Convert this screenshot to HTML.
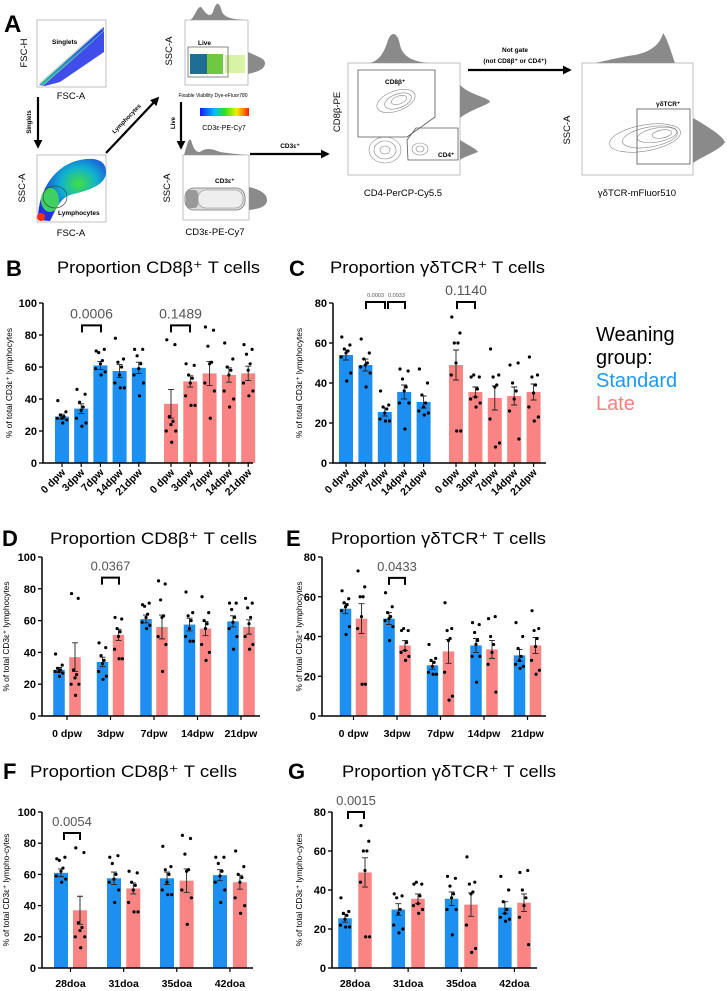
<!DOCTYPE html>
<html><head><meta charset="utf-8"><style>
html,body{margin:0;padding:0;background:#fff;}
svg{display:block;font-family:"Liberation Sans",sans-serif;}
</style></head><body>
<svg id="fig" xmlns="http://www.w3.org/2000/svg" width="727" height="991" viewBox="0 0 727 991">
<defs>
<marker id="arr" viewBox="0 0 10 10" refX="8" refY="5" markerWidth="4" markerHeight="4" orient="auto"><path d="M0,0L10,5L0,10z" fill="#000"/></marker>
<linearGradient id="cbar" x1="0" x2="1"><stop offset="0" stop-color="#1a1aff"/><stop offset="0.3" stop-color="#00c0ff"/><stop offset="0.5" stop-color="#30e020"/><stop offset="0.75" stop-color="#f0f000"/><stop offset="1" stop-color="#ff2000"/></linearGradient>
<radialGradient id="blob2" cx="0.6" cy="0.4" r="0.6"><stop offset="0" stop-color="#40e040"/><stop offset="0.45" stop-color="#10b0d0"/><stop offset="1" stop-color="#2030e0"/></radialGradient>
<linearGradient id="diag" x1="0" y1="1" x2="1" y2="0"><stop offset="0" stop-color="#20c0a0"/><stop offset="1" stop-color="#2040f0"/></linearGradient>
</defs>
<g>
<text x="4" y="32" font-size="24" font-weight="bold">A</text>
<rect x="37" y="20" width="69" height="67" fill="#fff" stroke="#999" stroke-width="0.6"/>
<polygon points="39,85 104,30 104,52 60,82 45,86" fill="#2b3ae8" opacity="0.9"/>
<polygon points="40,84 104,27 104,33 44,85" fill="url(#diag)"/>
<polygon points="40,83 102,28 104,31 42,86" fill="none" stroke="#bbb" stroke-width="0.6"/>
<text x="52" y="44" font-size="6.5" font-weight="bold">Singlets</text>
<text x="27" y="53" font-size="9.5" transform="rotate(-90 27 53)" text-anchor="middle">FSC-H</text>
<text x="71" y="99" font-size="9.5" text-anchor="middle">FSC-A</text>
<line x1="38" y1="97" x2="38" y2="147" stroke="#000" stroke-width="2.2" marker-end="url(#arr)"/>
<text x="31" y="122" font-size="6" font-weight="bold" transform="rotate(-90 31 122)" text-anchor="middle">Singlets</text>
<rect x="37" y="155" width="69" height="67" fill="#fff" stroke="#999" stroke-width="0.6"/>
<path d="M38,220 C38,190 55,165 80,160 C95,157 106,160 106,172 C106,185 90,190 70,195 C58,200 55,212 50,221 Z" fill="url(#blob2)"/>
<ellipse cx="50" cy="200" rx="9" ry="12" fill="#40d060"/>
<ellipse cx="41" cy="217" rx="4" ry="4" fill="#ff3010"/>
<ellipse cx="55" cy="197" rx="12" ry="11" fill="none" stroke="#333" stroke-width="0.6"/>
<text x="58" y="215" font-size="6.5" font-weight="bold">Lymphocytes</text>
<text x="25" y="188" font-size="9.5" transform="rotate(-90 25 188)" text-anchor="middle">SSC-A</text>
<text x="71" y="236" font-size="9.5" text-anchor="middle">FSC-A</text>
<line x1="106" y1="153" x2="158" y2="98" stroke="#000" stroke-width="2.2" marker-end="url(#arr)"/>
<text x="128" y="120" font-size="6" font-weight="bold" transform="rotate(-46 128 120)" text-anchor="middle">Lymphocytes</text>
<path d="M190,20 C195,18 198,3 202,8 C206,14 210,18 213,12 C216,2 219,0 222,12 C226,19 235,19 245,20 Z" fill="#8a8a8a"/>
<rect x="185" y="20" width="63" height="65" fill="#fff" stroke="#999" stroke-width="0.6"/>
<rect x="190" y="54" width="17" height="20" fill="#1f6e96"/>
<rect x="207" y="54" width="16" height="20" fill="#70c840"/>
<rect x="225" y="55" width="20" height="18" fill="#c8ec80" opacity="0.7"/>
<rect x="188" y="47" width="40" height="30" fill="none" stroke="#555" stroke-width="0.7"/>
<text x="198" y="45" font-size="6.5" font-weight="bold">Live</text>
<path d="M248,52 C256,56 265,58 265,63 C265,70 256,72 248,74 Z" fill="#8a8a8a"/>
<text x="172" y="51" font-size="9.5" transform="rotate(-90 172 51)" text-anchor="middle">SSC-A</text>
<text x="213" y="97" font-size="5" text-anchor="middle">Fixable Viability Dye-eFluor780</text>
<rect x="200" y="108" width="49" height="8" fill="url(#cbar)"/>
<text x="224" y="130" font-size="7" text-anchor="middle">CD3ε-PE-Cy7</text>
<line x1="181" y1="102" x2="181" y2="148" stroke="#000" stroke-width="2.2" marker-end="url(#arr)"/>
<text x="175" y="123" font-size="6" font-weight="bold" transform="rotate(-90 175 123)" text-anchor="middle">Live</text>
<path d="M184,155 C186,150 188,137 191,140 C194,150 196,152 200,152 C205,148 210,148 220,152 C235,154 245,155 249,155 Z" fill="#8a8a8a"/>
<rect x="183" y="155" width="66" height="65" fill="#fff" stroke="#999" stroke-width="0.6"/>
<rect x="185" y="188" width="60" height="22" rx="9" fill="#ddd" stroke="#777" stroke-width="0.8"/>
<rect x="198" y="190" width="45" height="18" rx="8" fill="#eee" stroke="#888" stroke-width="0.6"/>
<rect x="186" y="190" width="12" height="18" rx="4" fill="#999"/>
<text x="215" y="183" font-size="6.5" font-weight="bold">CD3ε⁺</text>
<path d="M249,187 C258,189 267,193 267,200 C267,207 258,209 249,210 Z" fill="#8a8a8a"/>
<text x="170" y="188" font-size="9.5" transform="rotate(-90 170 188)" text-anchor="middle">SSC-A</text>
<text x="215" y="235" font-size="9.5" text-anchor="middle">CD3ε-PE-Cy7</text>
<line x1="250" y1="154" x2="328" y2="154" stroke="#000" stroke-width="2.2" marker-end="url(#arr)"/>
<text x="290" y="148" font-size="6.5" font-weight="bold" text-anchor="middle">CD3ε⁺</text>
<path d="M368,63 C380,62 385,50 388,40 C392,30 398,33 400,45 C403,58 415,62 430,63 Z" fill="#8a8a8a"/>
<rect x="348" y="63" width="112" height="112" fill="#fff" stroke="#999" stroke-width="0.6"/>
<g fill="none" stroke="#888" stroke-width="0.6">
<ellipse cx="396" cy="101" rx="20" ry="10" transform="rotate(-20 396 101)"/>
<ellipse cx="398" cy="101" rx="14" ry="7" transform="rotate(-20 398 101)"/>
<ellipse cx="399" cy="100" rx="8" ry="4" transform="rotate(-20 399 100)"/>
<ellipse cx="385" cy="150" rx="16" ry="13"/><ellipse cx="385" cy="150" rx="11" ry="9"/><ellipse cx="385" cy="150" rx="5" ry="4"/>
<ellipse cx="420" cy="149" rx="8" ry="6"/><ellipse cx="420" cy="149" rx="4" ry="3"/>
</g>
<polygon points="358,70 435,70 435,117 407,137 358,137" fill="none" stroke="#555" stroke-width="0.8"/>
<polygon points="407,140 416,128 458,128 458,160 408,160" fill="none" stroke="#555" stroke-width="0.8"/>
<text x="385" y="84" font-size="6.5" font-weight="bold">CD8β⁺</text>
<text x="438" y="157" font-size="6.5" font-weight="bold">CD4⁺</text>
<path d="M460,85 C470,95 490,98 490,102 C485,106 470,110 460,118 L460,140 C468,145 478,150 478,152 C470,155 462,158 460,160 Z" fill="#8a8a8a"/>
<text x="340" y="112" font-size="9.5" transform="rotate(-90 340 112)" text-anchor="middle">CD8β-PE</text>
<text x="403" y="196" font-size="9.5" text-anchor="middle">CD4-PerCP-Cy5.5</text>
<line x1="468" y1="70" x2="570" y2="70" stroke="#000" stroke-width="2.2" marker-end="url(#arr)"/>
<text x="515" y="52" font-size="6.5" font-weight="bold" text-anchor="middle">Not gate</text>
<text x="515" y="63" font-size="6.5" font-weight="bold" text-anchor="middle">(not CD8β⁺ or CD4⁺)</text>
<path d="M595,63 C610,60 620,57 635,55 C650,52 660,45 663,33 C668,40 672,55 675,63 Z" fill="#8a8a8a"/>
<rect x="582" y="63" width="111" height="112" fill="#fff" stroke="#999" stroke-width="0.6"/>
<g fill="none" stroke="#888" stroke-width="0.6">
<ellipse cx="645" cy="138" rx="36" ry="13" transform="rotate(-10 645 138)"/>
<ellipse cx="650" cy="137" rx="28" ry="10" transform="rotate(-10 650 137)"/>
<ellipse cx="657" cy="135" rx="20" ry="7" transform="rotate(-10 657 135)"/>
<ellipse cx="662" cy="134" rx="10" ry="4" transform="rotate(-10 662 134)"/>
</g>
<rect x="637" y="109" width="53" height="55" fill="none" stroke="#555" stroke-width="0.8"/>
<text x="656" y="106" font-size="6.5" font-weight="bold">γδTCR⁺</text>
<path d="M693,118 C705,125 722,135 725,142 C720,150 705,155 693,163 Z" fill="#8a8a8a"/>
<text x="570" y="130" font-size="9.5" transform="rotate(-90 570 130)" text-anchor="middle">SSC-A</text>
<text x="637" y="196" font-size="9.5" text-anchor="middle">γδTCR-mFluor510</text>
</g>
<text x="6" y="276" font-size="22" font-weight="bold">B</text>
<text x="57" y="273" font-size="17" textLength="203" lengthAdjust="spacingAndGlyphs">Proportion CD8β⁺ T cells</text>
<text x="289" y="276" font-size="22" font-weight="bold">C</text>
<text x="330" y="273" font-size="17" textLength="215" lengthAdjust="spacingAndGlyphs">Proportion γδTCR⁺ T cells</text>
<text x="2" y="546" font-size="22" font-weight="bold">D</text>
<text x="50" y="544" font-size="17" textLength="207" lengthAdjust="spacingAndGlyphs">Proportion CD8β⁺ T cells</text>
<text x="286" y="546" font-size="22" font-weight="bold">E</text>
<text x="331" y="544" font-size="17" textLength="215" lengthAdjust="spacingAndGlyphs">Proportion γδTCR⁺ T cells</text>
<text x="3" y="779" font-size="22" font-weight="bold">F</text>
<text x="30" y="777" font-size="17" textLength="207" lengthAdjust="spacingAndGlyphs">Proportion CD8β⁺ T cells</text>
<text x="288" y="779" font-size="22" font-weight="bold">G</text>
<text x="342" y="777" font-size="17" textLength="214" lengthAdjust="spacingAndGlyphs">Proportion γδTCR⁺ T cells</text>
<g font-size="20">
<text x="596" y="341">Weaning</text>
<text x="596" y="364">group:</text>
<text x="596" y="387" fill="#1c9af5">Standard</text>
<text x="596" y="410" fill="#f58080">Late</text>
</g>
</svg>
<script>
const dpwLabels=["0 dpw","3dpw","7dpw","14dpw","21dpw"];
const doaLabels=["28doa","31doa","35doa","42doa"];
const cd8StdMean=[29,34,61,57.5,59.5];
const cd8StdSem=[1.5,3,2.5,4,3.5];
const cd8LateMean=[37,51,56,55,56];
const cd8LateSem=[9,3.5,7.5,4.5,4.5];
const gdStdMean=[54,49,25.5,35.5,30.5];
const gdStdSem=[2.5,3,2,3.5,3];
const gdLateMean=[49,35.5,32.5,33.5,35.5];
const gdLateSem=[7.5,2.5,6,4.5,4];
const cd8StdDots=[[39,32,30,29,28,28,27,25],[46,43,38,35,33,28,25,23],[70,71,69,64,62,59,57,55],[78,65,63,60,55,50,47,47],[71,71,67,62,59,55,50,42]];
const cd8LateDots=[[77,74,29,26,24,20,20,13],[62,61,55,53,50,42,36,36],[85,83,73,63,62,50,45,28],[75,65,60,58,55,45,40,35],[74,71,68,62,58,50,45,42]];
const gdStdDots=[[63,59,57,56,55,53,45,41],[62,55,52,50,49,48,45,38],[36,29,28,27,25,22,21,21],[47,46,42,38,36,30,30,17],[47,40,34,30,28,26,25,24]];
const gdLateDots=[[73,65,60,60,50,44,16,16],[43,43,44,37,33,32,30,28],[57,44,43,39,38,22,10,8],[49,50,40,36,32,26,12],[53,44,43,39,35,28,23,21]];
const doaCd8StdMean=[61,57.5,57.5,59.5];
const doaCd8StdSem=[2.5,4,4,3.5];
const doaCd8LateMean=[37,51,56,55];
const doaCd8LateSem=[9,3.5,7.5,4.5];
const doaCd8StdDots=[[70,71,69,64,62,59,57,55],[71,72,67,60,57,55,50,42],[78,65,63,60,55,50,47,47],[71,71,67,62,59,55,50,42]];
const doaCd8LateDots=[[77,74,29,26,24,20,20,13],[62,61,55,53,50,42,36,36],[85,83,73,63,62,50,45,28],[75,65,60,58,55,45,40,35]];
const doaGdStdMean=[25.5,30,35.5,31];
const doaGdStdSem=[2,3,3.5,3];
const doaGdLateMean=[49,35.5,32.5,33.5];
const doaGdLateSem=[7.5,2.5,6,4.5];
const doaGdStdDots=[[36,29,28,27,25,22,21,21],[38,37,36,30,28,22,20,18],[47,46,42,38,36,30,30,17],[47,40,34,30,28,26,25,24]];
const doaGdLateDots=[[73,65,60,60,50,44,16,16],[43,43,44,37,33,32,30,28],[57,44,43,39,38,22,10,8],[49,50,40,36,32,26,12]];
const ticks100=[0,20,40,60,80,100];
const ticks80=[0,20,40,60,80];

const NS="http://www.w3.org/2000/svg";
const svg=document.getElementById('fig');
const BLUE="#1c8ff0", RED="#f88484";
function mk(tag,attrs,parent){const e=document.createElementNS(NS,tag);for(const k in attrs)e.setAttribute(k,attrs[k]);(parent||svg).appendChild(e);return e;}
const offs=[-0.3,0.28,-0.12,0.14,0,-0.34,0.34,0.05];

function drawChart(c){
  const g=mk('g',{});
  
  
  const sy=v=>c.yBot-(v/c.ymax)*(c.yBot-c.yTop);
  const yt=mk('text',{x:c.titleX,y:(c.yTop+c.yBot)/2,'font-size':8.3,'text-anchor':'middle',transform:`rotate(-90 ${c.titleX} ${(c.yTop+c.yBot)/2})`},g);
  yt.textContent=c.yTitle;
  
  
  c.ticks.forEach(t=>{
    const tl=mk('line',{x1:c.ax-4,x2:c.ax,y1:sy(t),y2:sy(t),stroke:'#000','stroke-width':1.3},g);
    
    
    const tx=mk('text',{x:c.ax-6,y:sy(t)+4,'font-size':11,'font-weight':'bold','text-anchor':'end'},g);
    tx.textContent=t;
    
    
  });
  c.series.forEach(s=>{
    s.mean.forEach((m,i)=>{
      const cx=s.x0+i*s.step;
      const r=mk('rect',{x:cx-c.bw/2,y:sy(m),width:c.bw,height:c.yBot-sy(m),fill:s.color},g);
      
      
      const e=mk('path',{d:`M${cx},${sy(m-s.sem[i])}V${sy(m+s.sem[i])}M${cx-3},${sy(m+s.sem[i])}H${cx+3}M${cx-3},${sy(m-s.sem[i])}H${cx+3}`,stroke:'#222','stroke-width':0.9,fill:'none'},g);
      
      
      s.dots[i].forEach((v,j)=>{
        const d=mk('circle',{cx:cx+offs[j%8]*c.bw,cy:sy(v),r:1.6,fill:'#000'},g);
        
        
      });
      if(c.rotLabels){
        const tk=mk('line',{x1:cx,x2:cx,y1:c.yBot,y2:c.yBot+4,stroke:'#000','stroke-width':1.2},g);
        
        
        const lx=cx+4, ly=c.yBot+10;
        const lt=mk('text',{x:lx,y:ly,'font-size':10.5,'font-weight':'bold','text-anchor':'end',transform:`rotate(-45 ${lx} ${ly})`},g);
        lt.textContent=c.labels[i];
        
        
      }
    });
  });
  if(!c.rotLabels){
    const a=c.series[0],b=c.series[1];
    c.labels.forEach((lab,i)=>{
      const gx=(a.x0+i*a.step+b.x0+i*b.step)/2;
      const tk=mk('line',{x1:gx,x2:gx,y1:c.yBot,y2:c.yBot+4,stroke:'#000','stroke-width':1.2},g);
      
      
      const lt=mk('text',{x:gx,y:c.labelY,'font-size':10.5,'font-weight':'bold','text-anchor':'middle'},g);
      lt.textContent=lab;
      
      
    });
  }
  const ax=mk('path',{d:`M${c.ax},${c.yTop}V${c.yBot}H${c.xEnd}`,stroke:'#000','stroke-width':1.5,fill:'none'},g);
  
  
  c.brackets.forEach(bk=>{
    const y=sy(bk.val);
    const p=mk('path',{d:`M${bk.x1},${y+7}V${y}H${bk.x2}V${y+7}`,stroke:'#000','stroke-width':2,fill:'none'},g);
    
    
    const t=mk('text',{x:(bk.x1+bk.x2)/2,y:y-(bk.fs>10?7:5),'font-size':bk.fs,fill:'#555','text-anchor':'middle'},g);
    t.textContent=bk.label;
    
    
  });
}
const T1="% of total CD3ε⁺ lymphocytes", T2="% of total CD3ε⁺ lympho-cytes";
drawChart({name:'chart-b',ax:43,xEnd:253,yTop:303,yBot:463,ymax:100,ticks:ticks100,bw:14,titleX:12,yTitle:T1,rotLabels:true,labels:dpwLabels,
 series:[{x0:62,step:19.2,color:BLUE,mean:cd8StdMean,sem:cd8StdSem,dots:cd8StdDots},{x0:171,step:19.3,color:RED,mean:cd8LateMean,sem:cd8LateSem,dots:cd8LateDots}],
 brackets:[{x1:82,x2:101,val:86,label:'0.0006',fs:14},{x1:171,x2:190,val:86,label:'0.1489',fs:14}]});
drawChart({name:'chart-c',ax:333,xEnd:546,yTop:303,yBot:463,ymax:80,ticks:ticks80,bw:14,titleX:302,yTitle:T1,rotLabels:true,labels:dpwLabels,
 series:[{x0:346,step:19.4,color:BLUE,mean:gdStdMean,sem:gdStdSem,dots:gdStdDots},{x0:456,step:19.4,color:RED,mean:gdLateMean,sem:gdLateSem,dots:gdLateDots}],
 brackets:[{x1:366,x2:385,val:80.5,label:'0.0003',fs:5.5},{x1:388,x2:405,val:80.5,label:'0.0933',fs:5.5},{x1:457,x2:475,val:80.5,label:'0.1140',fs:14}]});
drawChart({name:'chart-d',ax:42,xEnd:260,yTop:557,yBot:716,ymax:100,ticks:ticks100,bw:11.5,titleX:9,yTitle:T1,rotLabels:false,labels:dpwLabels,labelY:737,
 series:[{x0:59,step:43.5,color:BLUE,mean:cd8StdMean,sem:cd8StdSem,dots:cd8StdDots},{x0:75,step:43.5,color:RED,mean:cd8LateMean,sem:cd8LateSem,dots:cd8LateDots}],
 brackets:[{x1:102,x2:119,val:87,label:'0.0367',fs:13}]});
drawChart({name:'chart-e',ax:322,xEnd:546,yTop:557,yBot:716,ymax:80,ticks:ticks80,bw:11.5,titleX:302,yTitle:T1,rotLabels:false,labels:dpwLabels,labelY:737,
 series:[{x0:345.5,step:43.5,color:BLUE,mean:gdStdMean,sem:gdStdSem,dots:gdStdDots},{x0:361.5,step:43.5,color:RED,mean:gdLateMean,sem:gdLateSem,dots:gdLateDots}],
 brackets:[{x1:389,x2:405,val:69.5,label:'0.0433',fs:13}]});
drawChart({name:'chart-f',ax:42,xEnd:253,yTop:812,yBot:968,ymax:100,ticks:ticks100,bw:14,titleX:9,yTitle:T2,rotLabels:false,labels:doaLabels,labelY:987,
 series:[{x0:61,step:53,color:BLUE,mean:doaCd8StdMean,sem:doaCd8StdSem,dots:doaCd8StdDots},{x0:80,step:53.3,color:RED,mean:doaCd8LateMean,sem:doaCd8LateSem,dots:doaCd8LateDots}],
 brackets:[{x1:64,x2:80,val:86.5,label:'0.0054',fs:13}]});
drawChart({name:'chart-g',ax:332,xEnd:537,yTop:812,yBot:968,ymax:80,ticks:ticks80,bw:13.5,titleX:302,yTitle:T2,rotLabels:false,labels:doaLabels,labelY:987,
 series:[{x0:345,step:53.3,color:BLUE,mean:doaGdStdMean,sem:doaGdStdSem,dots:doaGdStdDots},{x0:365,step:53,color:RED,mean:doaGdLateMean,sem:doaGdLateSem,dots:doaGdLateDots}],
 brackets:[{x1:348,x2:364,val:80,label:'0.0015',fs:13}]});
</script>
</body></html>
